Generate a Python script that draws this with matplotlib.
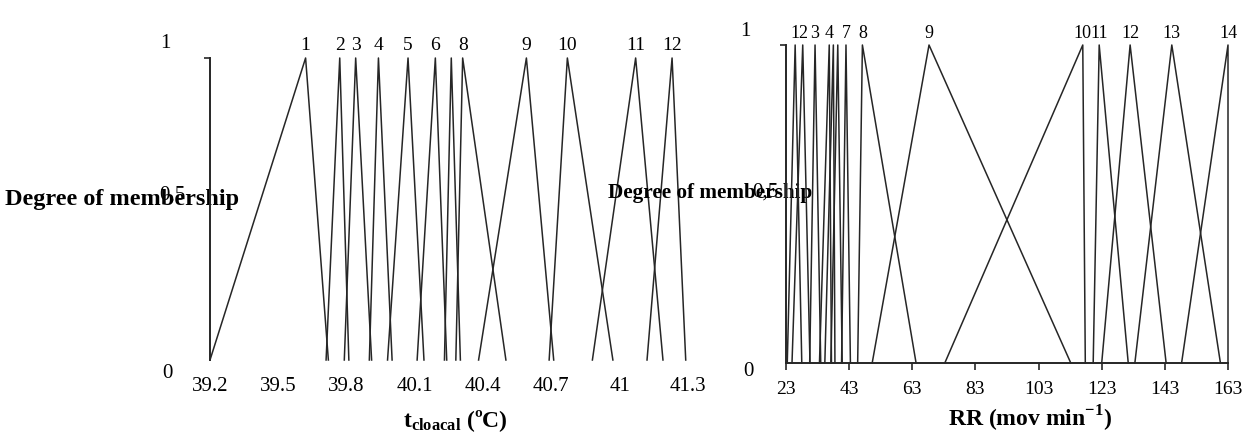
import matplotlib.pyplot as plt
from matplotlib.transforms import ScaledTranslation

plt.rcParams['font.family'] = 'Liberation Serif'
plt.rcParams['mathtext.fontset'] = 'custom'
plt.rcParams['mathtext.rm'] = 'Liberation Serif'
plt.rcParams['mathtext.bf'] = 'Liberation Serif:bold'

# cloacal temperature sets (left foot, peak, right foot), degC
t_left = [39.20, 39.71, 39.79, 39.90, 39.98, 40.11, 40.23, 40.28, 40.38, 40.69, 40.88, 41.12]
t_peak = [39.62, 39.77, 39.84, 39.94, 40.07, 40.19, 40.26, 40.31, 40.59, 40.77, 41.07, 41.23]
t_right = [39.72, 39.81, 39.91, 40.00, 40.14, 40.24, 40.30, 40.50, 40.71, 40.97, 41.19, 41.29]
t_names = ['1', '2', '3', '4', '5', '6', '', '8', '9', '10', '11', '12']
t_ticks = [39.2, 39.5, 39.8, 40.1, 40.4, 40.7, 41.0, 41.3]
t_ticklabels = ['39.2', '39.5', '39.8', '40.1', '40.4', '40.7', '41', '41.3']

# respiratory rate sets (left foot, peak, right foot), mov/min
rr_left = [23.4, 24.9, 30.5, 33.6, 35.3, 37.2, 40.6, 45.7, 50.3, 73.3, 120.3, 123.0, 133.5, 148.3]
rr_peak = [25.9, 28.3, 32.2, 36.7, 38.0, 39.4, 42.0, 47.2, 68.3, 117.0, 122.2, 132.0, 145.2, 163.0]
rr_right = [28.0, 30.6, 34.0, 37.4, 38.5, 40.8, 43.4, 64.2, 113.2, 117.8, 131.4, 143.4, 160.6, 163.0]
rr_names = ['1', '2', '3', '4', '', '', '7', '8', '9', '10', '11', '12', '13', '14']
rr_ticks = [23, 43, 63, 83, 103, 123, 143, 163]

y_vals = [0, 0.5, 1]
y_labels = ['0', '0,5', '1']

ink = '#262626'

fig = plt.figure(figsize=(12.51, 4.34), dpi=100)
ax1 = fig.add_axes([210 / 1251, 74 / 434, 478 / 1251, 302 / 434])
ax2 = fig.add_axes([786 / 1251, 71 / 434, 442 / 1251, 318 / 434])


def draw_sets(ax, left, peak, right, names, size, lift):
    for a, b, c, nm in zip(left, peak, right, names):
        ax.plot([a, b, c], [0, 1, 0], color=ink, lw=1.1, clip_on=False)
        if nm:
            ax.annotate(nm, (b, 1), xytext=(0, lift), textcoords='offset points',
                        ha='center', va='bottom', fontsize=size)


def y_text(ax, offsets):
    # tick labels of the membership axis sit a little off their ticks
    for v, lab, (dx, dy) in zip(y_vals, y_labels, offsets):
        tr = ax.get_yaxis_transform() + ScaledTranslation(dx / 100, dy / 100, fig.dpi_scale_trans)
        ax.text(0, v, lab, transform=tr, ha='center', va='center', fontsize=15)


draw_sets(ax1, t_left, t_peak, t_right, t_names, 14, 3)
ax1.set_xlim(39.2, 41.3)
ax1.set_ylim(0, 1)
ax1.set_xticks(t_ticks)
ax1.set_xticklabels(t_ticklabels, fontsize=15)
ax1.tick_params(axis='x', length=0, pad=12)
ax1.set_yticks([1])
ax1.set_yticklabels([])
ax1.tick_params(axis='y', length=4, width=1.2, color=ink)
for s in ['top', 'right', 'bottom']:
    ax1.spines[s].set_visible(False)
ax1.spines['left'].set_color(ink)
ax1.spines['left'].set_linewidth(1.4)
y_text(ax1, [(-43, -13), (-38, 14), (-45, 14)])
ax1.set_ylabel('Degree of membership', rotation=0, ha='center', va='center',
               fontsize=17.5, fontweight='bold')
ax1.yaxis.set_label_coords(-0.184, 0.53)
ax1.set_xlabel(r'$\mathbf{t_{cloacal}}$ (ºC)', fontsize=17, fontweight='bold')
ax1.xaxis.set_label_coords(0.513, -0.16)

draw_sets(ax2, rr_left, rr_peak, rr_right, rr_names, 13, 2)
ax2.set_xlim(23, 163)
ax2.set_ylim(0, 1)
ax2.set_xticks(rr_ticks)
ax2.set_xticklabels([str(v) for v in rr_ticks], fontsize=14)
ax2.tick_params(axis='x', length=5, width=1.2, color=ink, pad=8)
ax2.set_yticks([1])
ax2.set_yticklabels([])
ax2.tick_params(axis='y', length=4, width=1.2, color=ink)
for s in ['top', 'right']:
    ax2.spines[s].set_visible(False)
for s in ['left', 'bottom']:
    ax2.spines[s].set_color(ink)
    ax2.spines[s].set_linewidth(1.4)
y_text(ax2, [(-38, -9), (-21, 12), (-41, 13)])
ax2.set_ylabel('Degree of membership', rotation=0, ha='center', va='center',
               fontsize=15.3, fontweight='bold')
ax2.yaxis.set_label_coords(-0.172, 0.535)
ax2.set_xlabel(r'RR (mov min$^{\mathbf{-1}}$)', fontsize=17, fontweight='bold')
ax2.xaxis.set_label_coords(0.552, -0.128)

fig.savefig('out.png', dpi=100)
